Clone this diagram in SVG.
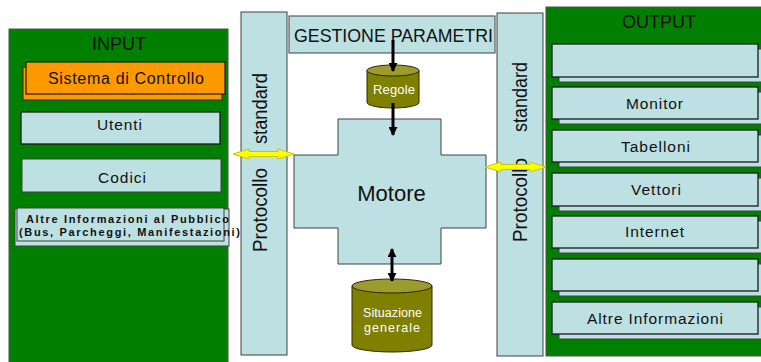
<svg xmlns="http://www.w3.org/2000/svg" width="761" height="362" viewBox="0 0 761 362">
<style>
.panel{fill:#007f00;stroke:#505050;stroke-width:1}
.box{fill:#bde0e2;stroke:#404040;stroke-width:1}
.obox{fill:#bde0e2;stroke:#1a1a1a;stroke-width:1.3}
.t{font-family:"Liberation Sans",Arial,sans-serif;fill:#111;text-anchor:middle}
.p{font-family:"Liberation Sans",Arial,sans-serif;fill:#111;text-anchor:start;font-size:21px}
.w{font-family:"Liberation Sans",Arial,sans-serif;fill:#fff;text-anchor:middle}
.cyl{fill:#808000;stroke:#2a2a00;stroke-width:1}
.cyltop{fill:#9c9c2e;stroke:#2a2a00;stroke-width:1}
.ar{stroke:#000;stroke-width:3;fill:none}
.yel{fill:#ffff00;stroke:#c8c800;stroke-width:1}
</style>
<defs>
<marker id="ah" viewBox="0 0 10 10" refX="9" refY="5" markerWidth="3" markerHeight="3" orient="auto-start-reverse" markerUnits="strokeWidth">
<path d="M0,0 L10,5 L0,10 z" fill="#000"/>
</marker>
</defs>
<rect width="761" height="362" fill="#fff"/>

<g id="input">
<rect class="panel" x="9" y="29" width="219" height="340"/>
<text class="t" x="119" y="50" font-size="18">INPUT</text>
</g>
<g id="sistema">
<rect x="23" y="67" width="199" height="33" fill="#ff9900" stroke="#3a2a00" stroke-width="1"/>
<rect x="26" y="62" width="199" height="32" fill="#ff9900" stroke="#1a1a1a" stroke-width="1.2"/>
<text class="t" x="126" y="84" font-size="16" textLength="156" lengthAdjust="spacing">Sistema di Controllo</text>
</g>
<g id="utenti">
<rect class="obox" x="21" y="112" width="199" height="32"/>
<text class="t" x="119.5" y="130" font-size="15.5" textLength="45" lengthAdjust="spacing">Utenti</text>
</g>
<g id="codici">
<rect class="box" x="22" y="159" width="199" height="33"/>
<text class="t" x="122" y="183" font-size="15.5" textLength="48" lengthAdjust="spacing">Codici</text>
</g>
<g id="altre-input">
<rect class="box" x="15" y="209" width="214" height="37"/>
<rect class="box" x="17" y="208" width="207" height="33"/>
<text class="t" x="127.5" y="223" font-size="11" font-weight="bold" textLength="203" lengthAdjust="spacing">Altre Informazioni al Pubblico</text>
<text class="t" x="129.5" y="236" font-size="11" font-weight="bold" textLength="221" lengthAdjust="spacing">(Bus, Parcheggi, Manifestazioni)</text>
</g>

<g id="protocollo-sx">
<rect class="box" x="241" y="12" width="46" height="343"/>
<text class="p" transform="translate(267,252) rotate(-90)" x="0" y="0" textLength="84" lengthAdjust="spacingAndGlyphs">Protocollo</text>
<text class="p" transform="translate(267,144) rotate(-90)" x="0" y="0" textLength="71" lengthAdjust="spacingAndGlyphs">standard</text>
</g>
<g id="protocollo-dx">
<rect class="box" x="497" y="13" width="46" height="343"/>
<text class="p" transform="translate(527,242) rotate(-90)" x="0" y="0" textLength="84" lengthAdjust="spacingAndGlyphs">Protocollo</text>
<text class="p" transform="translate(527,132) rotate(-90)" x="0" y="0" textLength="70" lengthAdjust="spacingAndGlyphs">standard</text>
</g>

<g id="gestione">
<rect class="box" x="289" y="16" width="206" height="37"/>
<text class="t" x="393.5" y="42" font-size="18" textLength="199" lengthAdjust="spacingAndGlyphs">GESTIONE PARAMETRI</text>
</g>

<g id="regole">
<path class="cyl" d="M367,70.5 V102.5 A26,5.5 0 0 0 419,102.5 V70.5 Z"/>
<ellipse class="cyltop" cx="393" cy="70.5" rx="26" ry="5.5"/>
<text class="w" x="394" y="94" font-size="13" textLength="42" lengthAdjust="spacing">Regole</text>
</g>

<g id="motore">
<polygon class="box" points="338,119 441,119 441,155 486,155 486,228 441,228 441,264 338,264 338,228 294,228 294,155 338,155"/>
<text class="t" x="391.5" y="201" font-size="22">Motore</text>
</g>

<g id="situazione">
<path class="cyl" d="M352,286 V345 A40,7 0 0 0 432,345 V286 Z"/>
<ellipse class="cyltop" cx="392" cy="286" rx="40" ry="7"/>
<text class="w" x="392.5" y="317" font-size="12.5" textLength="59" lengthAdjust="spacing">Situazione</text>
<text class="w" x="392" y="331.5" font-size="12.5" textLength="56" lengthAdjust="spacing">generale</text>
</g>

<g id="output">
<rect class="panel" x="546" y="7" width="230" height="349"/>
<text class="t" x="659" y="28" font-size="18">OUTPUT</text>
</g>
<g id="out1">
<rect class="box" x="559" y="49" width="210" height="33"/>
<rect class="obox" x="552" y="44" width="206" height="33"/>
</g>
<g id="out-monitor">
<rect class="box" x="559" y="92" width="210" height="32"/>
<rect class="obox" x="552" y="87" width="206" height="32"/>
<text class="t" x="654.5" y="109" font-size="15.5" textLength="57" lengthAdjust="spacing">Monitor</text>
</g>
<g id="out-tabelloni">
<rect class="box" x="559" y="135" width="210" height="32"/>
<rect class="obox" x="552" y="130" width="206" height="32"/>
<text class="t" x="655.5" y="152" font-size="15.5" textLength="69" lengthAdjust="spacing">Tabelloni</text>
</g>
<g id="out-vettori">
<rect class="box" x="559" y="178" width="210" height="33"/>
<rect class="obox" x="552" y="173" width="206" height="33"/>
<text class="t" x="656" y="195" font-size="15.5" textLength="50" lengthAdjust="spacing">Vettori</text>
</g>
<g id="out-internet">
<rect class="box" x="559" y="221" width="210" height="32"/>
<rect class="obox" x="552" y="216" width="206" height="32"/>
<text class="t" x="654.5" y="237" font-size="15.5" textLength="59" lengthAdjust="spacing">Internet</text>
</g>
<g id="out6">
<rect class="box" x="559" y="264" width="210" height="32"/>
<rect class="obox" x="552" y="259" width="206" height="32"/>
</g>
<g id="out-altre">
<rect class="box" x="559" y="307" width="210" height="32"/>
<rect class="obox" x="552" y="302" width="206" height="32"/>
<text class="t" x="655" y="324" font-size="15.5" textLength="136" lengthAdjust="spacing">Altre Informazioni</text>
</g>

<g id="connectors">
<line class="ar" x1="393" y1="40" x2="393" y2="71" marker-end="url(#ah)"/>
<line class="ar" x1="393" y1="103" x2="393" y2="135" marker-end="url(#ah)"/>
<line class="ar" x1="392" y1="249" x2="392" y2="281" marker-start="url(#ah)" marker-end="url(#ah)"/>
<path class="yel" d="M233,154 L249,149 L249,151.5 L278,151.5 L278,149 L294,154 L278,159 L278,156.5 L249,156.5 L249,159 Z"/>
<path class="yel" d="M485,167 L501,162 L501,164.5 L530,164.5 L530,162 L546,167 L530,172 L530,169.5 L501,169.5 L501,172 Z"/>
</g>
</svg>
